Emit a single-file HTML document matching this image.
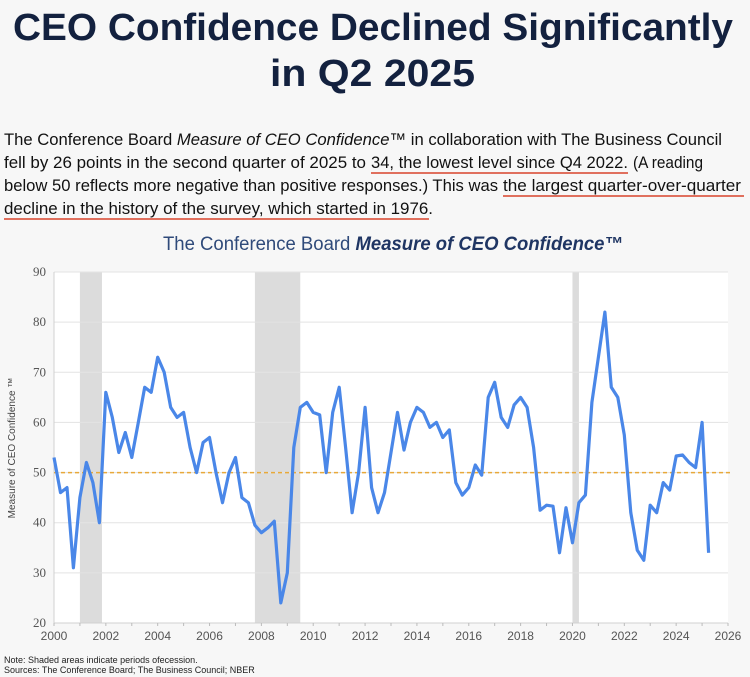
<!DOCTYPE html>
<html><head><meta charset="utf-8"><style>
html,body{margin:0;padding:0;background:#f7f7f7;width:750px;height:677px;overflow:hidden}
svg{display:block}
</style></head><body>
<svg width="750" height="677" viewBox="0 0 750 677" xmlns="http://www.w3.org/2000/svg">
<rect x="0" y="0" width="750" height="677" fill="#f7f7f7"/>
<g font-family="Liberation Sans, sans-serif" font-weight="bold" fill="#13213f" font-size="38">
<text x="13" y="40" textLength="720" lengthAdjust="spacingAndGlyphs">CEO Confidence Declined Significantly</text>
<text x="270" y="86" textLength="205" lengthAdjust="spacingAndGlyphs">in Q2 2025</text>
</g>
<g font-family="Liberation Sans, sans-serif" font-size="17" fill="#111">
<text x="4" y="145" textLength="718" lengthAdjust="spacingAndGlyphs">The Conference Board <tspan font-style="italic">Measure of CEO Confidence™</tspan> in collaboration with The Business Council</text>
<text x="4" y="168" textLength="362" lengthAdjust="spacingAndGlyphs">fell by 26 points in the second quarter of 2025 to</text>
<text x="371" y="168" textLength="257" lengthAdjust="spacingAndGlyphs">34, the lowest level since Q4 2022.</text>
<text x="633" y="168" textLength="70" lengthAdjust="spacingAndGlyphs">(A reading</text>
<text x="4" y="191" textLength="494" lengthAdjust="spacingAndGlyphs">below 50 reflects more negative than positive responses.) This was</text>
<text x="503" y="191" textLength="238" lengthAdjust="spacingAndGlyphs">the largest quarter-over-quarter</text>
<text x="4" y="214" textLength="429" lengthAdjust="spacingAndGlyphs">decline in the history of the survey, which started in 1976.</text>
</g>
<g stroke="#d9432b" stroke-width="1.6">
<line x1="371" y1="173" x2="628" y2="173"/>
<line x1="503" y1="196" x2="744" y2="196"/>
<line x1="4" y1="219" x2="429" y2="219"/>
</g>
<text x="163" y="250" font-family="Liberation Sans, sans-serif" font-size="19" fill="#2f4a7a" textLength="460" lengthAdjust="spacingAndGlyphs">The Conference Board <tspan font-weight="bold" font-style="italic" fill="#1f3563">Measure of CEO Confidence™</tspan></text>
<rect x="54" y="272" width="674" height="351" fill="#ffffff"/>
<g id="chart"></g>
<text x="4" y="663" font-family="Liberation Sans, sans-serif" font-size="9" fill="#222">Note: Shaded areas indicate periods ofecession.</text>
<text x="4" y="673" font-family="Liberation Sans, sans-serif" font-size="9" fill="#222">Sources: The Conference Board; The Business Council; NBER</text>
</svg>
<script>
const startYear = 2000;
const values = [53,46,47,31, 45,52,48,40, 66,61,54,58, 53,60,67,66, 73,70,63,61, 62,55,50,56, 57,50,44,50, 53,45,44,39.5, 38,39,40.3,24, 30,55,63,64, 62,61.5,50,62, 67,55,42,50, 63,47,42,46, 54,62,54.5,60, 63,62,59,60, 57,58.5,48,45.5, 47,51.5,49.5,65, 68,61,59,63.5, 65,63,55,42.5, 43.5,43.3,34,43, 36,44,45.5,64, 73,82,67,65, 57.5,42,34.5,32.5, 43.5,42,48,46.5, 53.3,53.5,52,51, 60,34];
const recessionStarts = [2001.0, 2007.75, 2020.0];
const recessionEnds = [2001.85, 2009.5, 2020.25];
const yTicks = [20,30,40,50,60,70,80,90];
const xTicks = [2000,2002,2004,2006,2008,2010,2012,2014,2016,2018,2020,2022,2024,2026];
const referenceLevel = [50];

const NS = 'http://www.w3.org/2000/svg';
const g = document.getElementById('chart');
const X0 = 54, X1 = 728, Y0 = 623, Y1 = 272;
const xs = t => X0 + (t - 2000) / 26 * (X1 - X0);
const ys = v => Y0 - (v - 20) / 70 * (Y0 - Y1);
function mk(tag, attrs){const e=document.createElementNS(NS,tag);for(const k in attrs)e.setAttribute(k,attrs[k]);g.appendChild(e);return e;}

for (let i=0;i<recessionStarts.length;i++){
  const r = mk('rect',{x:xs(recessionStarts[i]),y:Y1,width:xs(recessionEnds[i])-xs(recessionStarts[i]),height:Y0-Y1,fill:'#dcdcdc'});
  
  
}
yTicks.forEach(v=>{
  const l = mk('line',{x1:X0,x2:X1,y1:ys(v),y2:ys(v),stroke:'#e3e3e3','stroke-width':1});
  
  
  const t = mk('text',{x:X0-8,y:ys(v)+4,'text-anchor':'end','font-family':'Liberation Serif, serif','font-size':13,fill:'#555'});
  t.textContent = v;
  
  
});
const ax = mk('line',{x1:X0,x2:X0,y1:Y1,y2:Y0,stroke:'#d0d0d0'});


const bx = mk('line',{x1:X0,x2:X1,y1:Y0,y2:Y0,stroke:'#d0d0d0'});


xTicks.forEach(yr=>{
  const t = mk('text',{x:xs(yr),y:Y0+17,'text-anchor':'middle','font-family':'Liberation Sans, sans-serif','font-size':12,fill:'#555'});
  t.textContent = yr;
  
  
});
for (let yr=2000; yr<=2026; yr++){
  const tk = mk('line',{x1:xs(yr),x2:xs(yr),y1:Y0,y2:Y0+3,stroke:'#bbb'});
  
  
}
const ref = mk('line',{x1:X0,x2:X1+3,y1:ys(referenceLevel[0]),y2:ys(referenceLevel[0]),stroke:'#e8a93a','stroke-width':1.5,'stroke-dasharray':'4,3'});


const pts = values.map((v,i)=>xs(startYear+i/4).toFixed(1)+','+ys(v).toFixed(1)).join(' ');
const line = mk('polyline',{points:pts,fill:'none',stroke:'#4a87e8','stroke-width':3.2,'stroke-linejoin':'round'});


const yt = mk('text',{transform:'translate(15,448) rotate(-90)','text-anchor':'middle','font-family':'Liberation Sans, sans-serif','font-size':10,fill:'#444'});
yt.textContent = 'Measure of CEO Confidence ™';


</script>
</body></html>
